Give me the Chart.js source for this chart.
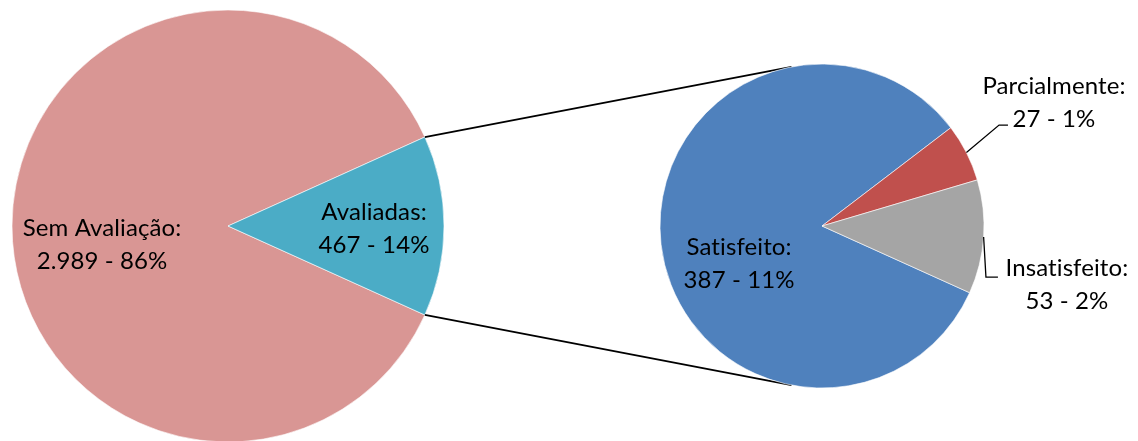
<!DOCTYPE html>
<html>
<head>
<meta charset="utf-8">
<script src="https://cdn.jsdelivr.net/npm/chart.js@4/dist/chart.umd.min.js"></script>
<style>
  html, body { margin: 0; padding: 0; background: #fff; }
  #wrap { position: relative; width: 1138px; height: 441px; overflow: hidden; }
  #wrap canvas { position: absolute; left: 0; top: 0; }
</style>
</head>
<body>
<div id="wrap">
  <canvas id="pizzaPrincipal" width="1138" height="441"></canvas>
  <canvas id="pizzaSecundaria" width="1138" height="441"></canvas>
</div>
<script>
// dados
const categoriasPrincipal = ['Sem Avaliação', 'Avaliadas'];
const valoresPrincipal = [2989, 467];
const categoriasAvaliadas = ['Satisfeito', 'Parcialmente', 'Insatisfeito'];
const valoresAvaliadas = [387, 27, 53];

const total = valoresPrincipal.reduce((a, b) => a + b, 0);
const fatia = valoresPrincipal[1] / total;
const rotacao = 90 + fatia * 180; // fatia "Avaliadas" centrada à direita

const fonte = '24px Lato, "Open Sans", sans-serif';

function formatar(n) {
    return String(n).replace(/\B(?=(\d{3})+(?!\d))/g, '.');
}

// posicao dos rotulos, em frações do raio a partir do centro
// guia: cotovelo e fim da linha guia (opcional)
const rotulosPrincipal = [
    { dx: -0.583, dy: 0.085 },
    { dx: 0.676, dy: 0.012 }
];
const rotulosAvaliadas = [
    { dx: -0.512, dy: 0.235 },
    { dx: 1.432, dy: -0.759, guia: [[1.093, -0.623], [1.148, -0.623]] },
    { dx: 1.512, dy: 0.361, guia: [[1.012, 0.315], [1.086, 0.315]] }
];

const pluginRotulos = {
    id: 'rotulos',
    afterDatasetsDraw(chart, args, opts) {
        const ctx = chart.ctx;
        const meta = chart.getDatasetMeta(0);
        const ds = chart.data.datasets[0];
        ctx.save();
        meta.data.forEach((arc, i) => {
            const r = arc.outerRadius;
            const pos = opts.posicoes[i];
            const cx = arc.x + pos.dx * r;
            const cy = arc.y + pos.dy * r;
            if (pos.guia) {
                const meio = (arc.startAngle + arc.endAngle) / 2;
                ctx.strokeStyle = '#000';
                ctx.lineWidth = 1.3;
                ctx.beginPath();
                ctx.moveTo(arc.x + Math.cos(meio) * r, arc.y + Math.sin(meio) * r);
                pos.guia.forEach(p => ctx.lineTo(arc.x + p[0] * r, arc.y + p[1] * r));
                ctx.stroke();
            }
            const v = ds.data[i];
            const linhas = [chart.data.labels[i] + ':', formatar(v) + ' - ' + Math.round(v / total * 100) + '%'];
            ctx.fillStyle = '#000';
            ctx.font = fonte;
            ctx.letterSpacing = '0.1px'; // sem ligaduras ("ti")
            ctx.textAlign = 'center';
            ctx.textBaseline = 'middle';
            ctx.fillText(linhas[0], cx, cy - 16.5);
            ctx.fillText(linhas[1], cx, cy + 16.5);
        });
        ctx.restore();
    }
};

const opcoesBase = {
    responsive: false,
    animation: false,
    events: [],
    plugins: { legend: { display: false }, tooltip: { enabled: false } }
};

const pizzaPrincipal = new Chart(document.getElementById('pizzaPrincipal').getContext('2d'), {
    type: 'pie',
    data: {
        labels: categoriasPrincipal,
        datasets: [{
            data: valoresPrincipal,
            backgroundColor: ['#D99694', '#4BACC6'],
            borderColor: '#fff',
            borderWidth: 0.6,
            hoverOffset: 0
        }]
    },
    options: {
        ...opcoesBase,
        rotation: rotacao,
        radius: 216,
        layout: { padding: { left: 12, right: 694, top: 11, bottom: 0 } },
        plugins: { ...opcoesBase.plugins, rotulos: { posicoes: rotulosPrincipal } }
    },
    plugins: [pluginRotulos]
});

// linhas de ligação: tangentes da fatia "Avaliadas" até a pizza secundária
const pluginLigacao = {
    id: 'ligacao',
    beforeDatasetsDraw(chart) {
        const origem = pizzaPrincipal.getDatasetMeta(0).data[1];
        const destino = chart.getDatasetMeta(0).data[0];
        const cx = destino.x, cy = destino.y, r = destino.outerRadius;
        const ctx = chart.ctx;
        ctx.save();
        ctx.strokeStyle = '#000';
        ctx.lineWidth = 1.8;
        [[origem.startAngle, 1], [origem.endAngle, -1]].forEach(([ang, lado]) => {
            const px = origem.x + Math.cos(ang) * origem.outerRadius;
            const py = origem.y + Math.sin(ang) * origem.outerRadius;
            const d = Math.hypot(px - cx, py - cy);
            const base = Math.atan2(py - cy, px - cx);
            const t = base + lado * Math.acos(r / d);
            ctx.beginPath();
            ctx.moveTo(px, py);
            ctx.lineTo(cx + Math.cos(t) * r, cy + Math.sin(t) * r);
            ctx.stroke();
        });
        ctx.restore();
    }
};

const pizzaSecundaria = new Chart(document.getElementById('pizzaSecundaria').getContext('2d'), {
    type: 'pie',
    data: {
        labels: categoriasAvaliadas,
        datasets: [{
            data: valoresAvaliadas,
            backgroundColor: ['#4F81BD', '#C0504D', '#A5A5A5'],
            borderColor: '#fff',
            borderWidth: 0.6,
            hoverOffset: 0
        }]
    },
    options: {
        ...opcoesBase,
        rotation: rotacao,
        radius: 162,
        layout: { padding: { left: 660, right: 154, top: 64, bottom: 53 } },
        plugins: { ...opcoesBase.plugins, rotulos: { posicoes: rotulosAvaliadas } }
    },
    plugins: [pluginLigacao, pluginRotulos]
});
</script>
</body>
</html>
